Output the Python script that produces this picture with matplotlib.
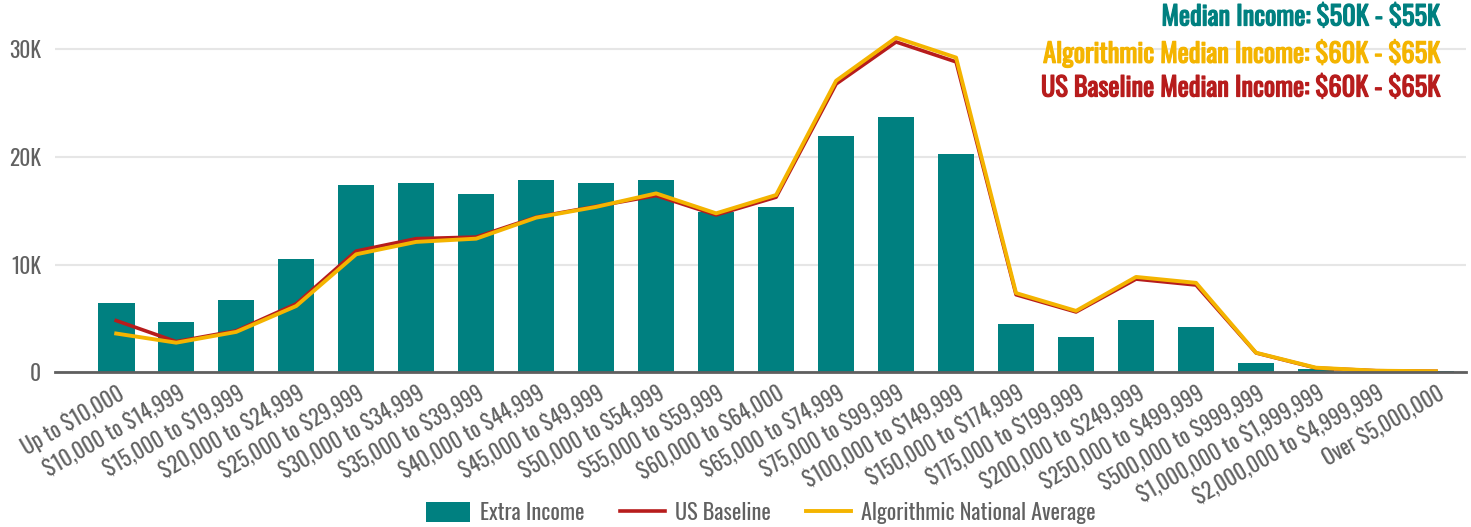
"""Income distribution: extra income vs. baseline and algorithmic average."""

import matplotlib

matplotlib.use("Agg")
import matplotlib.pyplot as plt
from matplotlib import font_manager, patheffects
from matplotlib.lines import Line2D
from matplotlib.patches import Patch
from matplotlib.ticker import FuncFormatter

# --- data -----------------------------------------------------------------
categories = [
    "Up to $10,000", "$10,000 to $14,999", "$15,000 to $19,999",
    "$20,000 to $24,999", "$25,000 to $29,999", "$30,000 to $34,999",
    "$35,000 to $39,999", "$40,000 to $44,999", "$45,000 to $49,999",
    "$50,000 to $54,999", "$55,000 to $59,999", "$60,000 to $64,000",
    "$65,000 to $74,999", "$75,000 to $99,999", "$100,000 to $149,999",
    "$150,000 to $174,999", "$175,000 to $199,999", "$200,000 to $249,999",
    "$250,000 to $499,999", "$500,000 to $999,999", "$1,000,000 to $1,999,999",
    "$2,000,000 to $4,999,999", "Over $5,000,000",
]
extra_income = [6400, 4700, 6700, 10500, 17400, 17600, 16500, 17800, 17600,
                17800, 14900, 15300, 21900, 23700, 20250, 4500, 3300, 4850,
                4200, 900, 310, 100, 150]
us_baseline = [4800, 2850, 3850, 6350, 11250, 12400, 12550, 14400, 15400,
               16400, 14600, 16250, 26750, 30650, 28800, 7200, 5600, 8650,
               8100, 1800, 400, 150, 100]
algo_average = [3600, 2750, 3750, 6150, 10950, 12100, 12400, 14350, 15350,
                16600, 14750, 16450, 27050, 31050, 29200, 7350, 5700, 8850,
                8300, 1820, 430, 150, 100]
series_names = ["Extra Income", "US Baseline", "Algorithmic National Average"]
headlines = [
    "Median Income: $50K - $55K",
    "Algorithmic Median Income: $60K - $65K",
    "US Baseline Median Income: $60K - $65K",
]

TEAL = "#008080"
RED = "#B71C1C"
GOLD = "#F4B400"
GREY = "#616161"


def pick_font() -> str:
    """Return the first condensed family that is installed."""
    names = {f.name for f in font_manager.fontManager.ttflist}
    for name in ["Oswald", "Roboto Condensed", "Archivo Narrow", "Roboto"]:
        if name in names:
            return name
    return "DejaVu Sans"


FONT = pick_font()
plt.rcParams["font.family"] = [FONT, "DejaVu Sans"]
plt.rcParams["text.parse_math"] = False

fig = plt.figure(figsize=(14.71, 5.27), dpi=100)
ax = fig.add_axes([0.0374, 0.2935, 0.9592, 0.6545])

x = list(range(len(categories)))
ax.bar(x, extra_income, width=0.61, color=TEAL, zorder=2)
ax.plot(x, us_baseline, color=RED, lw=2.6, zorder=3, solid_joinstyle="round")
ax.plot(x, algo_average, color=GOLD, lw=2.8, zorder=4, solid_joinstyle="round")

ax.set_xlim(-1.02, 22.5)
ax.set_ylim(0, 32000)
ax.set_yticks([0, 10000, 20000, 30000])
ax.yaxis.set_major_formatter(
    FuncFormatter(lambda v, _: "0" if v == 0 else f"{int(v / 1000)}K"))
ax.grid(axis="y", color="#e6e6e6", lw=1.5, zorder=0)
ax.set_axisbelow(True)
for side in ["top", "right", "left"]:
    ax.spines[side].set_visible(False)
ax.spines["bottom"].set_color("#5f5f5f")
ax.spines["bottom"].set_linewidth(2)
ax.spines["bottom"].set_zorder(5)

ax.tick_params(axis="y", length=0, pad=10, labelsize=15.5, labelcolor=GREY)
ax.tick_params(axis="x", length=0, pad=6, labelsize=15.5, labelcolor=GREY)
ax.set_xticks(x)
ax.set_xticklabels(categories, rotation=30, ha="right", va="top",
                   rotation_mode="anchor")

handles = [
    Patch(facecolor=TEAL),
    Line2D([], [], color=RED, lw=2.6),
    Line2D([], [], color=GOLD, lw=2.8),
]
fig.legend(handles, series_names, loc="center", bbox_to_anchor=(0.517, 0.027),
           ncol=3, frameon=False, fontsize=16, labelcolor=GREY,
           handlelength=2.0, handleheight=1.0, columnspacing=1.6,
           handletextpad=0.45, borderpad=0.2)

for text, color, y_px in zip(headlines, [TEAL, GOLD, RED], [17, 53, 88]):
    fig.text(1440 / 1471, 1 - y_px / 527, text, color=color, fontsize=19,
             ha="right", va="center",
             path_effects=[patheffects.withStroke(linewidth=0.9, foreground=color)])

fig.savefig("out.png", dpi=100)
